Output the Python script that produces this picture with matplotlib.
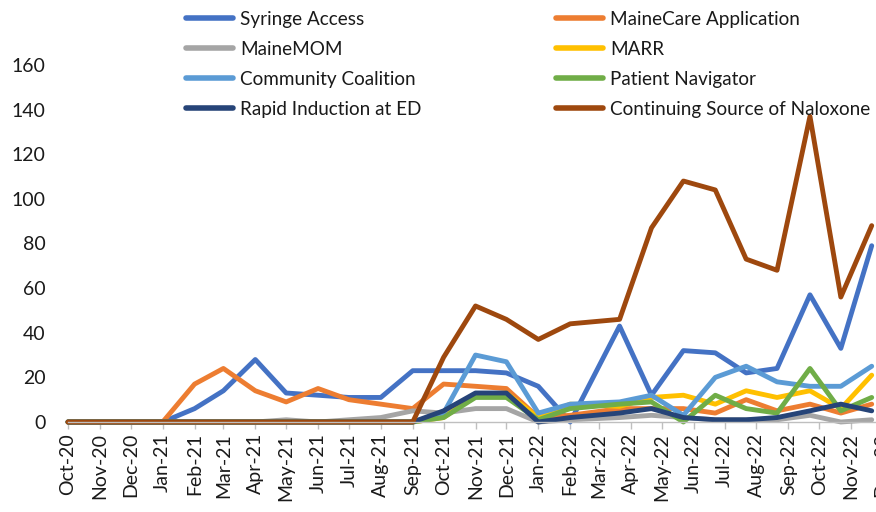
import datetime as dt
import matplotlib
matplotlib.use('Agg')
import matplotlib.pyplot as plt
import matplotlib.dates as mdates

plt.rcParams['font.family'] = ['Lato', 'DejaVu Sans']

# reporting dates (monthly; from Mar-22 on the data were taken around the 21st)
dates = ['2020-10-01', '2020-11-01', '2020-12-01', '2021-01-01', '2021-02-01', '2021-03-01',
         '2021-04-01', '2021-05-01', '2021-06-01', '2021-07-01', '2021-08-01', '2021-09-01',
         '2021-10-01', '2021-11-01', '2021-12-01', '2022-01-01', '2022-02-01', '2022-03-21',
         '2022-04-21', '2022-05-22', '2022-06-22', '2022-07-22', '2022-08-21', '2022-09-22',
         '2022-10-22', '2022-11-21']

syringe = [0, 0, 0, 0, 6, 14, 28, 13, 12, 11, 11, 23, 23, 23, 22, 16, 0, 43, 12, 32, 31, 22, 24, 57, 33, 79]
mainecare = [0, 0, 0, 0, 17, 24, 14, 9, 15, 10, 8, 6, 17, 16, 15, 2, 3, 6, 6, 6, 4, 10, 5, 8, 4, 8]
mainemom = [0, 0, 0, 0, 0, 0, 0, 1, 0, 1, 2, 5, 4, 6, 6, 0, 1, 2, 3, 2, 1, 1, 1, 3, 0, 1]
marr = [0, 0, 0, 0, 0, 0, 0, 0, 0, 0, 0, 0, 2, 12, 13, 2, 8, 7, 11, 12, 8, 14, 11, 14, 6, 21]
community = [0, 0, 0, 0, 0, 0, 0, 0, 0, 0, 0, 0, 4, 30, 27, 4, 8, 9, 12, 3, 20, 25, 18, 16, 16, 25]
navigator = [0, 0, 0, 0, 0, 0, 0, 0, 0, 0, 0, 0, 2, 11, 11, 1, 6, 8, 9, 0, 12, 6, 4, 24, 5, 11]
rapid = [0, 0, 0, 0, 0, 0, 0, 0, 0, 0, 0, 0, 5, 13, 13, 0, 2, 4, 6, 2, 1, 1, 2, 5, 8, 5]
naloxone = [0, 0, 0, 0, 0, 0, 0, 0, 0, 0, 0, 0, 29, 52, 46, 37, 44, 46, 87, 108, 104, 73, 68, 137, 56, 88]

names = ['Syringe Access', 'MaineCare Application', 'MaineMOM', 'MARR',
         'Community Coalition', 'Patient Navigator', 'Rapid Induction at ED',
         'Continuing Source of Naloxone']
series = [syringe, mainecare, mainemom, marr, community, navigator, rapid, naloxone]
colors = ['#4472C4', '#ED7D31', '#A5A5A5', '#FFC000', '#5B9BD5', '#70AD47', '#264478', '#9E480E']

x = [dt.datetime.strptime(d, '%Y-%m-%d') for d in dates]

fig = plt.figure(figsize=(8.76, 5.12), dpi=100)
ax = fig.add_axes([68 / 876, 90 / 512, 814 / 876, 357 / 512])

lines = []
for vals, name, col in zip(series, names, colors):
    ln, = ax.plot(x, vals, color=col, lw=3.5, label=name,
                  solid_joinstyle='round', solid_capstyle='round', clip_on=False)
    lines.append(ln)

ax.set_xlim(dt.datetime(2020, 10, 1), dt.datetime(2022, 12, 1))
ax.set_ylim(0, 160)
ax.set_yticks(range(0, 161, 20))

ax.xaxis.set_major_locator(mdates.MonthLocator())
ax.xaxis.set_major_formatter(mdates.DateFormatter('%b-%y'))
ax.tick_params(axis='x', rotation=90, labelsize=14, length=5, width=1, color='#BFBFBF',
               pad=3, labelcolor='#1a1a1a')
ax.tick_params(axis='y', length=0, labelsize=14, pad=16, labelcolor='#1a1a1a')

for s in ['top', 'right', 'left']:
    ax.spines[s].set_visible(False)
ax.spines['bottom'].set_color('#BFBFBF')
ax.spines['bottom'].set_linewidth(1)

# legend split into two columns placed by hand
legprops = {'family': 'Lato', 'size': 13.6}
leg1 = fig.legend(lines[0::2], names[0::2], loc='upper left',
                  bbox_to_anchor=(186 / 876, 1 - 11 / 512), frameon=False, prop=legprops,
                  handlelength=2.5, handletextpad=0.35, labelspacing=0.68, borderpad=0,
                  borderaxespad=0, labelcolor='#1a1a1a')
leg2 = fig.legend(lines[1::2], names[1::2], loc='upper left',
                  bbox_to_anchor=(556 / 876, 1 - 11 / 512), frameon=False, prop=legprops,
                  handlelength=2.5, handletextpad=0.35, labelspacing=0.68, borderpad=0,
                  borderaxespad=0, labelcolor='#1a1a1a')
for leg in (leg1, leg2):
    for h in leg.legend_handles:
        h.set_linewidth(4)

plt.savefig('out.png', dpi=100)
